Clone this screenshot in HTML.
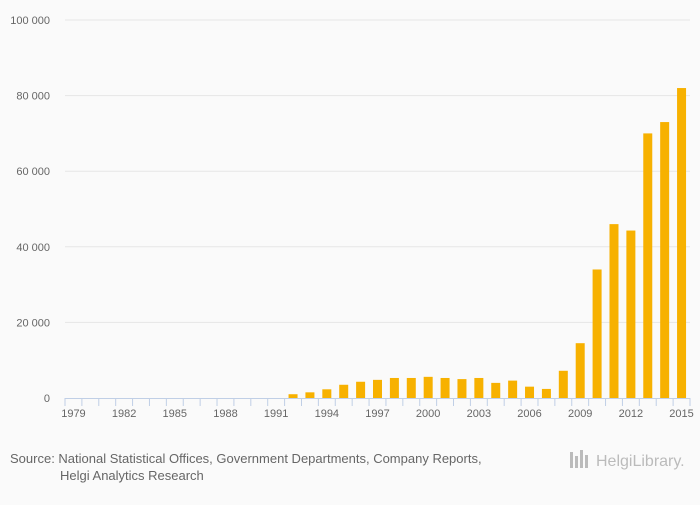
<!DOCTYPE html>
<html><head><meta charset="utf-8"><style>
body{margin:0;background:#fafafa;font-family:"Liberation Sans",sans-serif;}
svg text{font-family:"Liberation Sans",sans-serif;}
</style></head><body>
<svg id="c" width="700" height="500" xmlns="http://www.w3.org/2000/svg">
<rect width="700" height="500" fill="#fafafa"/>
<g id="grid"></g><g id="bars"></g><g id="axis"></g>
<text x="10" y="463" font-size="13" fill="#666">Source: National Statistical Offices, Government Departments, Company Reports,</text>
<text x="60" y="480" font-size="13" fill="#666">Helgi Analytics Research</text>
<g>
<rect x="570" y="452" width="3" height="16" fill="#bbb"/><rect x="575" y="456" width="3" height="12" fill="#bbb"/><rect x="580" y="450" width="3" height="18" fill="#bbb"/><rect x="585" y="455" width="3" height="13" fill="#bbb"/>
<text x="596" y="466" font-size="16" fill="#bbb">HelgiLibrary.</text></g>
</svg>
<script>
const years=[];for(let y=1979;y<=2015;y++)years.push(y);
const values=[0,0,0,0,0,0,0,0,0,0,0,0,0,1000,1500,2300,3500,4300,4800,5300,5300,5600,5300,5000,5300,4000,4600,3000,2400,7200,14500,34000,46000,44300,70000,73000,82000];
const yTicks=[0,20000,40000,60000,80000,100000];
const yLabels=["0","20 000","40 000","60 000","80 000","100 000"];
const x0=65,x1=690,y0=398,yTop=20,ymax=100000;
const bw=(x1-x0)/years.length;
const X=i=>x0+i*bw, Y=v=>y0-(v/ymax)*(y0-yTop);
const ns="http://www.w3.org/2000/svg";
function mk(t,a,p){const e=document.createElementNS(ns,t);for(const k in a)e.setAttribute(k,a[k]);p.appendChild(e);return e;}
const grid=document.getElementById('grid'),bars=document.getElementById('bars'),axis=document.getElementById('axis');
yTicks.forEach((v,i)=>{
 if(v>0){const l=mk('line',{x1:x0,x2:x1,y1:Y(v),y2:Y(v),stroke:'#e6e6e6'},grid);
 
 }
 const t=mk('text',{x:50,y:Y(v)+4,'text-anchor':'end','font-size':'11',fill:'#666'},axis);t.textContent=yLabels[i];
 
 
});
values.forEach((v,i)=>{
 if(v<=0)return;
 const r=mk('rect',{x:X(i)+bw/2-4.5,y:Y(v),width:9,height:y0-Y(v),fill:'#f7b100'},bars);
 
 
});
const ax=mk('line',{x1:x0,x2:x1,y1:y0+0.5,y2:y0+0.5,stroke:'#c0cfe6'},axis);


for(let i=0;i<=years.length;i++){const tk=mk('line',{x1:X(i),x2:X(i),y1:y0,y2:y0+8,stroke:'#c0cfe6'},axis);
 
 }
years.forEach((yr,i)=>{if((yr-1979)%3)return;
 const t=mk('text',{x:X(i)+bw/2,y:y0+19,'text-anchor':'middle','font-size':'11',fill:'#666'},axis);t.textContent=yr;
 
 });
</script>
</body></html>
